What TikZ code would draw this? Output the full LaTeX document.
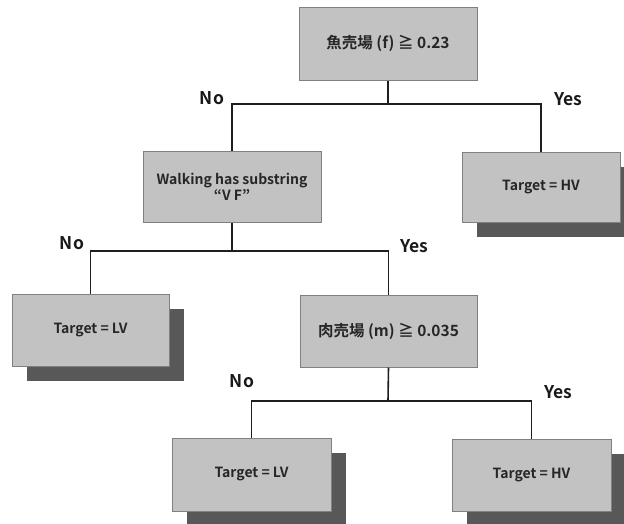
\documentclass[tikz,border=0pt]{standalone}
\usepackage{fontspec}
\setmainfont{Noto Sans CJK JP}[BoldFont={Noto Sans CJK JP Bold}]
\usetikzlibrary{shadows}
\definecolor{boxfill}{HTML}{C2C2C2}
\definecolor{boxline}{HTML}{808080}
\definecolor{shadowc}{HTML}{585858}
\definecolor{linec}{HTML}{1E1E1E}
\begin{document}
\begin{tikzpicture}[x=1pt,y=-1pt,
  box/.style={draw=boxline, line width=1pt, fill=boxfill, align=center, font=\fontsize{14}{16}\selectfont\bfseries, inner sep=2pt, text=black!85},
  jbox/.style={box, font=\fontsize{15.5}{18}\selectfont\bfseries},
  leafbox/.style={box, drop shadow={shadow xshift=15pt, shadow yshift=-15pt, fill=shadowc, opacity=1}},
  conn/.style={draw=linec, line width=1.6pt},
  lab/.style={font=\fontsize{17.5}{20}\selectfont\bfseries, text=black!90}]
\useasboundingbox (0,0) rectangle (624,523);
\node[jbox, minimum width=178pt, minimum height=73pt] (root) at (388,43.5) {魚売場 (f) ≧ 0.23};
\node[box, minimum width=178pt, minimum height=71pt] (walk) at (232,186.5) {Walking has substring\\“V F”};
\node[leafbox, minimum width=158pt, minimum height=70pt] (hv1) at (541,187) {Target = HV};
\node[leafbox, minimum width=157pt, minimum height=72pt] (lv1) at (90.5,330) {Target = LV};
\node[jbox, minimum width=177pt, minimum height=72pt] (meat) at (388.5,331) {肉売場 (m) ≧ 0.035};
\node[leafbox, minimum width=159pt, minimum height=73pt] (lv2) at (251.5,474.5) {Target = LV};
\node[leafbox, minimum width=159pt, minimum height=72pt] (hv2) at (531.5,475) {Target = HV};
\coordinate (j1) at (388,104);
\coordinate (j2) at (232,251);
\coordinate (j3) at (388,401);
\draw[conn] (root.south) -- (j1);
\draw[conn] (walk.north) |- (j1) -| (hv1.north);
\draw[conn] (walk.south) -- (j2);
\draw[conn] (lv1.north) |- (j2) -| (meat.north);
\draw[conn] (meat.south) -- (j3);
\draw[conn] (lv2.north) |- (j3) -| (hv2.north);
\node[lab] (n1) at (212,98) {No};
\node[lab] (y1) at (568,99) {Yes};
\node[lab] (n2) at (72,243) {No};
\node[lab] (y2) at (414,246) {Yes};
\node[lab] (n3) at (242,381) {No};
\node[lab] (y3) at (558,392) {Yes};
\end{tikzpicture}
\end{document}
